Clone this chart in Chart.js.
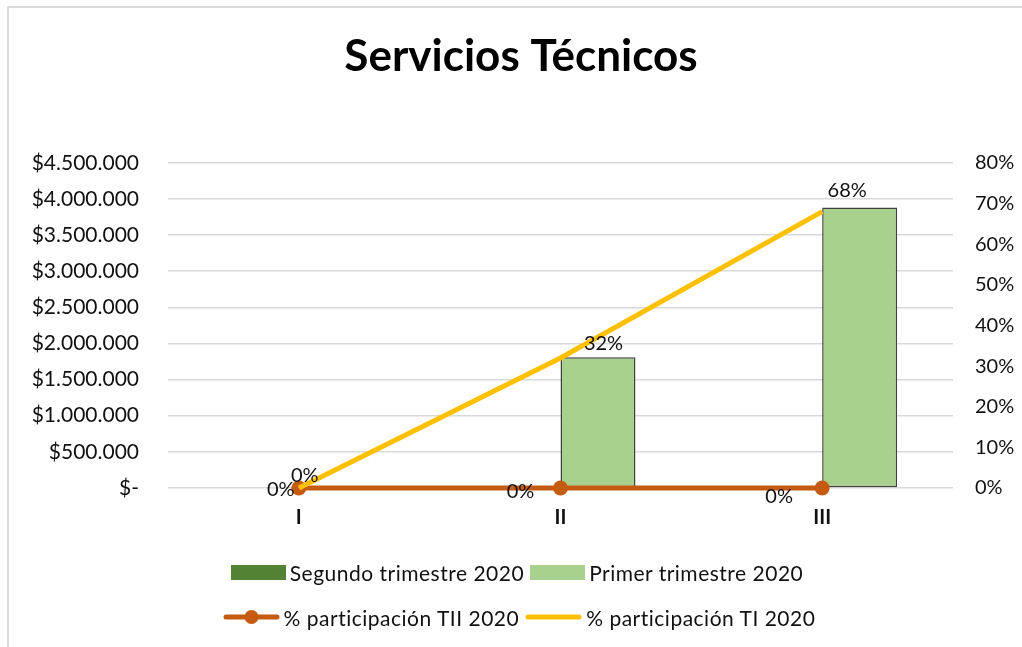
<!DOCTYPE html>
<html><head><meta charset="utf-8">
<script src="https://cdn.jsdelivr.net/npm/chart.js@4"></script>
<style>
html,body{margin:0;padding:0;background:#fff;}
#wrap{position:relative;width:1022px;height:647px;overflow:hidden;background:#fff;}
#frame{position:absolute;left:7px;top:6px;right:-5px;bottom:-5px;border-left:2px solid #dcdcdc;border-top:2px solid #dcdcdc;pointer-events:none;}
#chart{position:absolute;left:0;top:0;}
.row{position:absolute;left:0;width:1022px;display:flex;justify-content:center;align-items:center;height:26px;font-family:Lato, sans-serif;font-size:21px;letter-spacing:0.5px;color:#111;}
.item{display:flex;align-items:center;margin:0 3px;white-space:nowrap;}
.item canvas{display:block;margin-right:4px;}
</style></head>
<body>
<div id="wrap">
<canvas id="chart" width="1022" height="647"></canvas>
<div id="frame"></div>
<div class="row" id="row1" style="top:559px;left:6px"></div>
<div class="row" id="row2" style="top:604px;left:8px"></div>
</div>
<script>
const categories = ['I', 'II', 'III'];
const seriesNames = ['Segundo trimestre 2020', 'Primer trimestre 2020', '% participación TII 2020', '% participación TI 2020'];
const segundoTrimestre = [0, 0, 0];
const primerTrimestre = [0, 1810000, 3880000];
const participacionTII = [0, 0, 0];
const participacionTI = [0, 0.32, 0.68];
const leftTickValues = [0, 500000, 1000000, 1500000, 2000000, 2500000, 3000000, 3500000, 4000000, 4500000];
const rightTickValues = [0, 0.1, 0.2, 0.3, 0.4, 0.5, 0.6, 0.7, 0.8];

const FONT = 'Lato, sans-serif';
function money(v) {
  if (v === 0) return '$-';
  return '$' + Math.round(v).toString().replace(/\B(?=(\d{3})+(?!\d))/g, '.');
}
function pct(v) { return Math.round(v * 100) + '%'; }

const labelOffsets = {
  2: [[-18, 2], [-40, 4], [-43, 9]],
  3: [[6, -12], [43, -14], [25, -21]]
};

const dataLabels = {
  id: 'dataLabels',
  afterDatasetsDraw(chart) {
    const ctx = chart.ctx;
    ctx.save();
    ctx.font = '20px ' + FONT;
    ctx.fillStyle = '#111';
    ctx.textAlign = 'center';
    ctx.textBaseline = 'middle';
    [2, 3].forEach(di => {
      const meta = chart.getDatasetMeta(di);
      meta.data.forEach((pt, i) => {
        const v = chart.data.datasets[di].data[i];
        const o = labelOffsets[di][i];
        ctx.fillText(pct(v), pt.x + o[0], pt.y + o[1]);
      });
    });
    ctx.restore();
  }
};

const chart = new Chart(document.getElementById('chart'), {
  data: {
    labels: categories,
    datasets: [
      { type: 'bar', label: seriesNames[0], data: segundoTrimestre, yAxisID: 'y',
        backgroundColor: '#548235', borderColor: '#404040', borderWidth: 1, borderSkipped: false,
        categoryPercentage: 0.573, barPercentage: 1.0, order: 2 },
      { type: 'bar', label: seriesNames[1], data: primerTrimestre, yAxisID: 'y',
        backgroundColor: '#A9D18E', borderColor: '#404040', borderWidth: 1.5, borderSkipped: false,
        categoryPercentage: 0.573, barPercentage: 1.0, order: 3 },
      { type: 'line', label: seriesNames[2], data: participacionTII, yAxisID: 'y1',
        borderColor: '#C55A11', backgroundColor: '#C55A11', borderWidth: 5,
        pointRadius: 7.5, pointBackgroundColor: '#C55A11', pointBorderWidth: 0, order: 1, clip: false },
      { type: 'line', label: seriesNames[3], data: participacionTI, yAxisID: 'y1',
        borderColor: '#FFC000', backgroundColor: '#FFC000', borderWidth: 5,
        pointRadius: 0, order: 0, clip: false }
    ]
  },
  options: {
    responsive: false,
    animation: false,
    devicePixelRatio: 1,
    layout: { padding: { left: 20, right: 0, top: 0, bottom: 119 } },
    plugins: {
      legend: { display: false },
      tooltip: { enabled: false },
      title: {
        display: true, text: 'Servicios Técnicos', color: '#000',
        font: { family: FONT, size: 44, weight: 'bold' },
        padding: { top: 30, bottom: 80 }
      }
    },
    scales: {
      x: {
        offset: true,
        grid: { display: false, drawTicks: false },
        border: { display: false },
        ticks: { color: '#111', font: { family: FONT, size: 20, weight: 'bold' }, padding: 18 },
        afterFit(s) { s.height = 40; }
      },
      y: {
        position: 'left', min: 0, max: 4500000,
        afterBuildTicks(s) { s.ticks = leftTickValues.map(v => ({ value: v })); },
        grid: { color: '#d9d9d9', lineWidth: 1.5, drawTicks: false },
        border: { display: false },
        ticks: { color: '#111', font: { family: FONT, size: 21 }, padding: 29, callback: v => money(v) },
        afterFit(s) { s.width = 148; }
      },
      y1: {
        position: 'right', min: 0, max: 0.8,
        afterBuildTicks(s) { s.ticks = rightTickValues.map(v => ({ value: v })); },
        grid: { display: false, drawTicks: false },
        border: { display: false },
        ticks: { color: '#111', font: { family: FONT, size: 20 }, padding: 22, callback: v => pct(v) },
        afterFit(s) { s.width = 69; }
      }
    }
  },
  plugins: [dataLabels]
});

function marker(ds) {
  const c = document.createElement('canvas');
  const ctx = c.getContext('2d');
  if (ds.type === 'bar') {
    c.width = 55; c.height = 15;
    ctx.fillStyle = ds.backgroundColor;
    ctx.fillRect(0, 0, 55, 15);
  } else {
    c.width = 57; c.height = 16;
    ctx.strokeStyle = ds.borderColor;
    ctx.lineWidth = ds.borderWidth;
    ctx.lineCap = 'round';
    ctx.beginPath(); ctx.moveTo(3, 8); ctx.lineTo(54, 8); ctx.stroke();
    if (ds.pointRadius > 0) {
      ctx.fillStyle = ds.pointBackgroundColor;
      ctx.beginPath(); ctx.arc(28.5, 8, 7, 0, Math.PI * 2); ctx.fill();
    }
  }
  return c;
}
chart.data.datasets.forEach(ds => {
  const item = document.createElement('div');
  item.className = 'item';
  item.appendChild(marker(ds));
  const t = document.createElement('span');
  t.textContent = ds.label;
  item.appendChild(t);
  document.getElementById(ds.type === 'bar' ? 'row1' : 'row2').appendChild(item);
});
</script>
</body></html>
